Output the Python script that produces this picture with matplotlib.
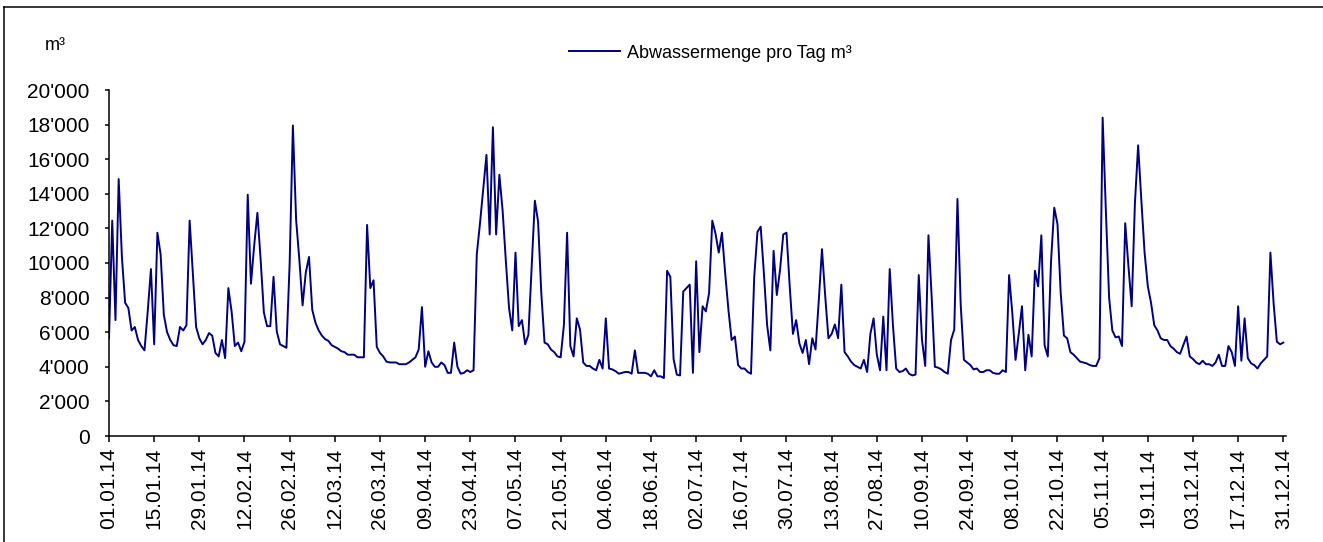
import matplotlib
matplotlib.use("Agg")
import matplotlib.pyplot as plt
import matplotlib.dates as mdates
from matplotlib.lines import Line2D
from matplotlib.ticker import FuncFormatter, MultipleLocator
import pandas as pd

plt.rcParams['font.family'] = ['Liberation Sans', 'DejaVu Sans']

# Abwassermenge pro Tag (m³), 01.01.2014 - 31.12.2014
werte = [
    5650, 12450, 6700, 14850, 10350, 7700, 7400, 6100, 6300, 5550, 5200, 4950, 7200, 9650,
    5300, 11750, 10500, 7000, 6000, 5550, 5250, 5200, 6300, 6100, 6400, 12450, 9400, 6300,
    5650, 5300, 5550, 5950, 5800, 4800, 4600, 5550, 4500, 8550, 7200, 5200, 5400, 4900,
    5450, 13950, 8800, 11000, 12900, 10200, 7150, 6350, 6350, 9200, 6050, 5300, 5200, 5100,
    10000, 17950, 12500, 10200, 7550, 9450, 10350, 7300, 6550, 6100, 5800, 5600, 5500, 5250,
    5150, 5050, 4900, 4850, 4700, 4700, 4700, 4550, 4550, 4550, 12200, 8550, 9000, 5150,
    4800, 4600, 4300, 4250, 4250, 4250, 4150, 4150, 4150, 4250, 4400, 4550, 5000, 7450,
    4000, 4900, 4250, 4000, 4000, 4250, 4100, 3650, 3650, 5400, 4000, 3600, 3650, 3800,
    3700, 3800, 10500, 12300, 14250, 16250, 11650, 17850, 11650, 15100, 13050, 10150, 7400, 6100,
    10600, 6350, 6700, 5300, 5850, 9700, 13600, 12400, 8250, 5400, 5300, 5000, 4850, 4600,
    4550, 6400, 11750, 5200, 4600, 6800, 6150, 4250, 4050, 4050, 3900, 3800, 4400, 3900,
    6800, 3900, 3850, 3750, 3600, 3650, 3700, 3700, 3600, 4950, 3650, 3650, 3650, 3600,
    3450, 3800, 3450, 3450, 3350, 9550, 9200, 4450, 3550, 3500, 8350, 8550, 8750, 3650,
    10100, 4850, 7500, 7200, 8250, 12450, 11700, 10600, 11750, 9400, 7300, 5550, 5750, 4100,
    3900, 3900, 3700, 3600, 9200, 11800, 12100, 9400, 6400, 4950, 10700, 8150, 9600, 11650,
    11750, 8650, 5900, 6700, 5350, 4800, 5550, 4150, 5650, 5000, 7800, 10800, 8100, 5650,
    5900, 6450, 5650, 8750, 4850, 4600, 4300, 4100, 4000, 3900, 4400, 3700, 5900, 6800,
    4700, 3800, 6900, 3800, 9650, 6400, 3900, 3700, 3750, 3900, 3600, 3500, 3550, 9300,
    5550, 4050, 11600, 8050, 4000, 3950, 3850, 3700, 3600, 5550, 6150, 13700, 7600, 4400,
    4250, 4100, 3850, 3900, 3700, 3700, 3800, 3800, 3650, 3600, 3600, 3800, 3700, 9300,
    7100, 4400, 5900, 7500, 3800, 5850, 4600, 9550, 8650, 11600, 5250, 4600, 10100, 13200,
    12250, 8250, 5800, 5650, 4850, 4700, 4500, 4300, 4250, 4200, 4100, 4050, 4050, 4500,
    18400, 13000, 8000, 6100, 5700, 5750, 5200, 12300, 9800, 7500, 13450, 16800, 13600, 10600,
    8650, 7700, 6400, 6100, 5650, 5550, 5550, 5200, 5050, 4850, 4750, 5250, 5750, 4600,
    4450, 4250, 4150, 4350, 4150, 4150, 4050, 4250, 4700, 4050, 4050, 5200, 4850, 4050,
    7500, 4350, 6800, 4500, 4200, 4100, 3900, 4200, 4400, 4600, 10600, 7650, 5450, 5300,
    5400,
]
tage = pd.date_range('2014-01-01', '2014-12-31', freq='D')
tick_tage = pd.date_range('2014-01-01', '2014-12-31', freq='14D')
y_ticks = list(range(0, 20001, 2000))

W, H = 1323, 542
fig = plt.figure(figsize=(W / 100, H / 100), dpi=100)
ax = fig.add_axes([109 / W, 1 - 436 / H, (1286 - 109) / W, (436 - 90) / H])

ax.plot(tage, werte, color='#000080', linewidth=1.4, label='Abwassermenge pro Tag m³')

ax.set_xlim(tage[0], tage[-1] + pd.Timedelta(hours=20))
ax.set_ylim(0, 20000)
ax.set_yticks(y_ticks)
ax.yaxis.set_major_formatter(FuncFormatter(lambda v, p: f"{int(v):,}".replace(",", "'")))
ax.set_xticks(tick_tage)
ax.xaxis.set_major_formatter(mdates.DateFormatter('%d.%m.%y'))
plt.setp(ax.get_xticklabels(), rotation=90)

for s in ['top', 'right']:
    ax.spines[s].set_visible(False)
for s in ['left', 'bottom']:
    ax.spines[s].set_linewidth(1.1)
ax.tick_params(axis='y', direction='out', length=3, width=1.1, pad=11, labelsize=15)
ax.tick_params(axis='x', direction='out', length=4.5, width=1.1, pad=4, labelsize=15)

fig.text(45 / W, 1 - 45 / H, 'm³', fontsize=13, va='center', ha='left')

ax.legend(loc='center left', bbox_to_anchor=(569 / W, 1 - 53 / H), bbox_transform=fig.transFigure,
          frameon=False, fontsize=13, handlelength=2.8, handletextpad=0.4,
          borderpad=0, borderaxespad=0)

# Rahmen (oben und links)
fig.add_artist(Line2D([4 / W, 1], [1 - 7 / H, 1 - 7 / H], transform=fig.transFigure, color='black', lw=1.1))
fig.add_artist(Line2D([4 / W, 4 / W], [0, 1 - 7 / H], transform=fig.transFigure, color='black', lw=1.1))

fig.savefig('out.png', dpi=100)
